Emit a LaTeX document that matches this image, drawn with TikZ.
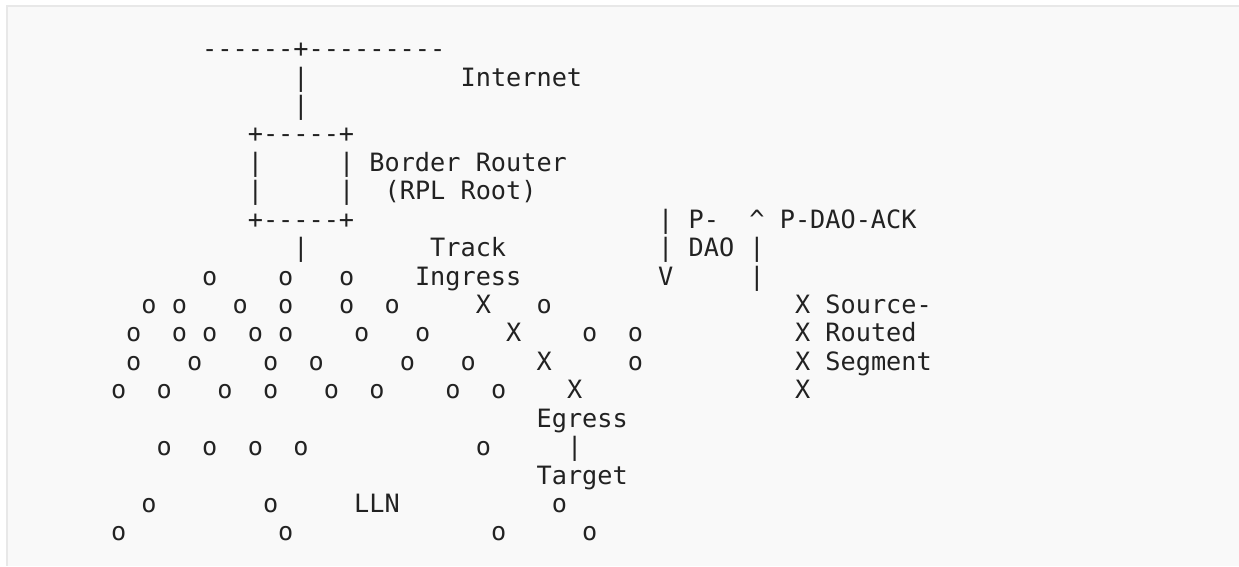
\documentclass[tikz,border=0pt]{standalone}
\usepackage{fontspec}
\setmonofont{DejaVu Sans Mono}
\definecolor{prebg}{HTML}{F9F9F9}
\definecolor{preline}{HTML}{E8E8E8}
\definecolor{ink}{HTML}{222222}
\tikzset{ascii/.style={anchor=base west, inner sep=0pt, outer sep=0pt, text=ink,
    font=\ttfamily\fontsize{12.62pt}{14pt}\selectfont}}

\begin{document}
\begin{tikzpicture}[x=7.6pt, y=-14.215pt]
  % page and the grey block behind the text
  \useasboundingbox (-7.303,-1.026) rectangle (74.21,18.883);
  \fill[prebg] (-6.823,-0.815) rectangle (74.21,18.883);
  \draw[preline, line width=1pt] (-6.823,18.883) -- (-6.823,-0.815) -- (74.21,-0.815);

  % internet and border router
  \node[ascii] (wan) at (6,1) {------+---------};
  \node[ascii] (up1) at (12,2) {|};
  \node[ascii] (internet) at (23,2) {Internet};
  \node[ascii] (up2) at (12,3) {|};
  \node[ascii] (boxtop) at (9,4) {+-----+};
  \node[ascii] (boxl1) at (9,5) {|};
  \node[ascii] (boxr1) at (15,5) {|};
  \node[ascii] (br) at (17,5) {Border Router};
  \node[ascii] (boxl2) at (9,6) {|};
  \node[ascii] (boxr2) at (15,6) {|};
  \node[ascii] (root) at (18,6) {(RPL Root)};
  \node[ascii] (boxbot) at (9,7) {+-----+};
  \node[ascii] (down) at (12,8) {|};

  % P-DAO and its ack
  \node[ascii] (dao1) at (36,7) {|};
  \node[ascii] (daolbl1) at (38,7) {P-};
  \node[ascii] (ack1) at (42,7) {\textasciicircum};
  \node[ascii] (acklbl) at (44,7) {P-DAO-ACK};
  \node[ascii] (dao2) at (36,8) {|};
  \node[ascii] (daolbl2) at (38,8) {DAO};
  \node[ascii] (ack2) at (42,8) {|};
  \node[ascii] (dao3) at (36,9) {V};
  \node[ascii] (ack3) at (42,9) {|};

  % track labels
  \node[ascii] (track) at (21,8) {Track};
  \node[ascii] (ingress) at (20,9) {Ingress};
  \node[ascii] (egress) at (28,14) {Egress};
  \node[ascii] (tgtlink) at (30,15) {|};
  \node[ascii] (target) at (28,16) {Target};
  \node[ascii] (lln) at (16,17) {LLN};

  % LLN nodes
  \foreach \r/\cols in {9/{6,11,15}, 10/{2,4,8,11,15,18,28},
      11/{1,4,6,9,11,16,20,31,34}, 12/{1,5,10,13,19,23,34},
      13/{0,3,7,10,14,17,22,25}, 15/{3,6,9,12,24},
      17/{2,10,29}, 18/{0,11,25,31}}
    \foreach \c in \cols
      \node[ascii] (o\r-\c) at (\c,\r) {o};

  % the track hops
  \foreach \r/\c in {10/24, 11/26, 12/28, 13/30}
    \node[ascii] (x\r) at (\c,\r) {X};

  % source-routed segment
  \foreach \r in {10,...,13}
    \node[ascii] (sr\r) at (45,\r) {X};
  \node[ascii] (srlbl1) at (47,10) {Source-};
  \node[ascii] (srlbl2) at (47,11) {Routed};
  \node[ascii] (srlbl3) at (47,12) {Segment};
\end{tikzpicture}
\end{document}
